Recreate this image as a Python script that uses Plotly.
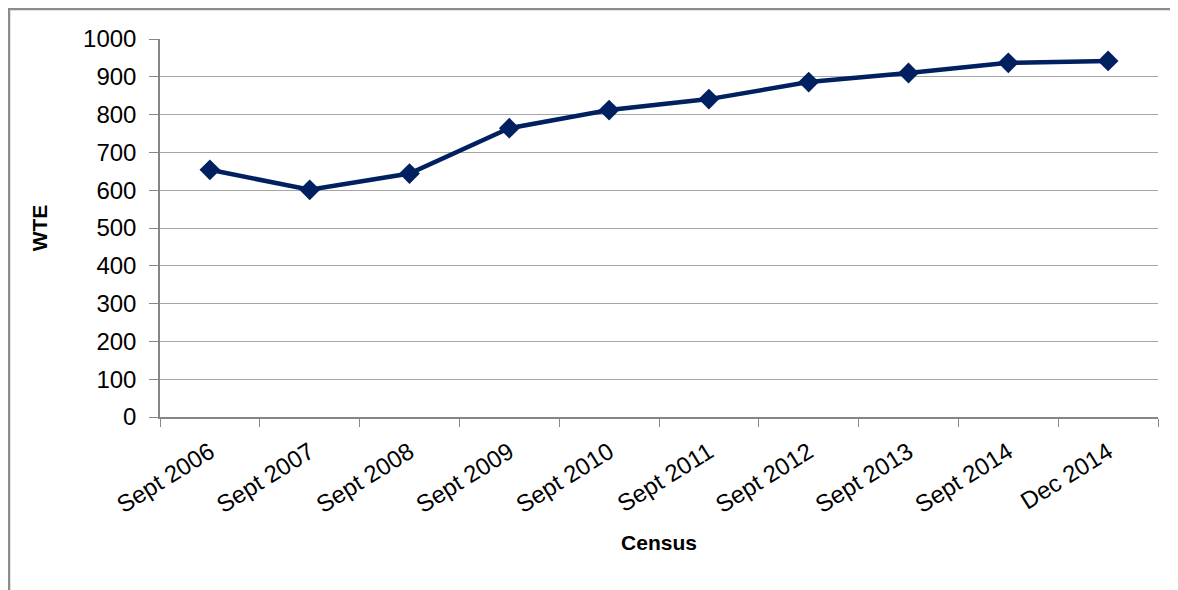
import plotly.graph_objects as go

# Census points and WTE values
census = ['Sept 2006', 'Sept 2007', 'Sept 2008', 'Sept 2009', 'Sept 2010',
          'Sept 2011', 'Sept 2012', 'Sept 2013', 'Sept 2014', 'Dec 2014']
wte = [654, 601, 644, 764, 812, 841, 886, 910, 937, 942]

navy = '#002060'
grid_grey = '#a6a6a6'
axis_grey = '#868686'
font_family = 'Liberation Sans, Arial, sans-serif'

fig = go.Figure()
fig.add_trace(go.Scatter(
    x=census,
    y=wte,
    mode='lines+markers',
    line=dict(color=navy, width=4.5),
    marker=dict(symbol='diamond', size=16, color=navy),
    showlegend=False,
))

# outer chart frame (only top and left edges visible in the crop)
fig.add_shape(
    type='rect', xref='paper', yref='paper',
    x0=-0.1513, x1=1.05, y0=-0.5, y1=1.0794,
    line=dict(color='#8c8c8c', width=2.5),
    fillcolor='rgba(0,0,0,0)', layer='below',
)

# page body adds an 8px offset, so margins are shifted to compensate
fig.update_layout(
    width=1178,
    height=590,
    margin=dict(l=152, r=28, t=31, b=181),
    plot_bgcolor='white',
    paper_bgcolor='white',
    font=dict(family=font_family, size=20, color='#000000'),
    xaxis=dict(
        type='category',
        range=[-0.5, 9.5],
        tickson='boundaries',
        ticks='outside',
        ticklen=8,
        tickcolor=axis_grey,
        showline=True,
        linecolor=axis_grey,
        linewidth=1.5,
        showgrid=False,
        tickangle=-32,
        tickfont=dict(size=24),
        ticklabelstandoff=10,
        title=dict(text='<b>Census</b>', font=dict(size=21), standoff=18),
    ),
    yaxis=dict(
        range=[0, 1000],
        dtick=100,
        ticks='outside',
        ticklen=9,
        tickcolor=axis_grey,
        showline=True,
        linecolor=axis_grey,
        linewidth=1.5,
        showgrid=True,
        gridcolor=grid_grey,
        gridwidth=1,
        zeroline=False,
        tickfont=dict(size=24),
        ticklabelstandoff=8,
        title=dict(text='<b>WTE</b>', font=dict(size=21), standoff=30),
    ),
)

fig.write_html('out.html')
